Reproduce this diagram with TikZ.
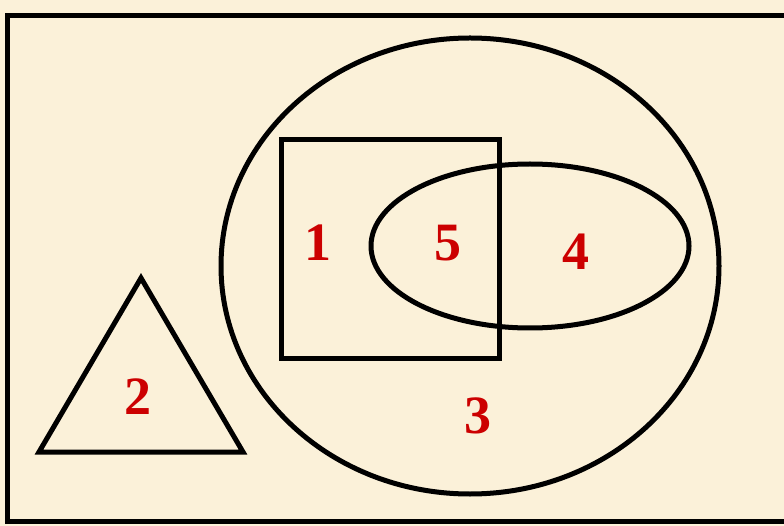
\documentclass[tikz,border=0pt]{standalone}
\usepackage{fontspec}
\setmainfont{Liberation Serif}
\usepackage{xcolor}
\usetikzlibrary{positioning, calc}
\definecolor{parchment}{RGB}{251,241,217}
\definecolor{numred}{RGB}{204,0,0}
\tikzset{
  rim/.style={draw=black, line width=5pt},
  region/.style={text=numred, font=\fontsize{54}{54}\selectfont\bfseries,
                 inner sep=0pt}
}

\begin{document}
\begin{tikzpicture}[x=1pt, y=-1pt]
  \useasboundingbox[fill=parchment] (0,0) rectangle (784,526);
  % universe
  \draw[rim] (7.5,15.5) rectangle (800,521.5);
  % big circle, square, oval, triangle
  \draw[rim] (470,266) ellipse [x radius=249pt, y radius=228pt];
  \draw[rim] (281,140) rectangle (499,358);
  \draw[rim] (530,246) ellipse [x radius=159pt, y radius=82pt];
  \draw[rim, line join=miter] (141,278) -- (243,452) -- (39,452) -- cycle;
  % labels
  \node[region] (r1) at (318,243) {1};
  \node[region] (r2) at (138,397) {2};
  \node[region] (r3) at (478,416) {3};
  \node[region] (r4) at (576,252) {4};
  \node[region] (r5) at (448,243) {5};
\end{tikzpicture}
\end{document}
